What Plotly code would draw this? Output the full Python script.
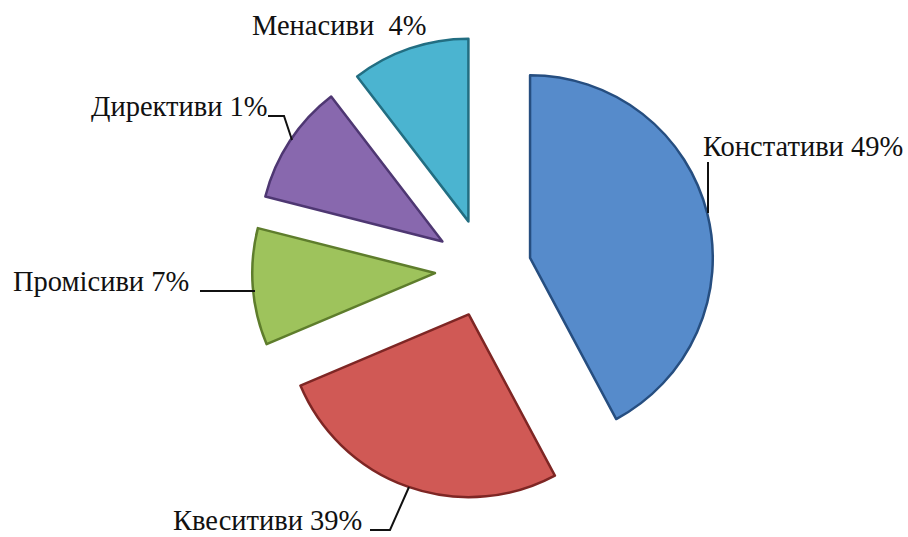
import plotly.graph_objects as go

# --- data -------------------------------------------------------------
categories = ["Констативи", "Квеситиви", "Промісиви", "Директиви", "Менасиви"]
# shares as printed on the labels
label_percents = ["49%", "39%", "7%", "1%", "4%"]
# slice sizes as drawn in the picture
slice_values = [42.1, 26.4, 10.3, 10.6, 10.4]

# --- styles -----------------------------------------------------------
fill_colors = ["#568BCB", "#D05955", "#9EC35C", "#8868AE", "#4BB4D0"]
edge_colors = ["#264E80", "#7E2624", "#5E7D2C", "#4E3772", "#226E82"]
pulls = [0.256, 0.262, 0.273, 0.277, 0.277]

W, H = 908, 537


def px(x, y):
    return x / W, 1 - y / H


fig = go.Figure(
    go.Pie(
        labels=categories,
        values=slice_values,
        sort=False,
        direction="clockwise",
        rotation=0,
        pull=pulls,
        textinfo="none",
        hoverinfo="label",
        marker=dict(colors=fill_colors, line=dict(color=edge_colors, width=2.5)),
        domain=dict(x=[0.1, 0.9676], y=[0.064, 0.933]),
        showlegend=False,
    )
)

font = dict(family="Liberation Serif, Times New Roman, serif", size=28.5, color="#111111")

# label anchors (left edge x, vertical centre y) in pixels
label_pos = [(701, 146), (171, 520), (11, 281), (89, 106), (250, 25)]
annotations = []
for i, (cat, pct) in enumerate(zip(categories, label_percents)):
    sep = "  " if i == 4 else " "
    x, y = px(*label_pos[i])
    annotations.append(
        dict(
            text=cat + sep + pct,
            x=x,
            y=y,
            xref="paper",
            yref="paper",
            xanchor="left",
            yanchor="middle",
            showarrow=False,
            font=font,
        )
    )

# leader lines (pixel paths)
leaders = [
    [(708, 162), (708, 213)],
    [(370, 530), (390, 530), (409, 487)],
    [(200, 291), (255, 291)],
    [(268, 116), (284, 116), (292, 140)],
]
shapes = []
for path in leaders:
    pts = [px(*p) for p in path]
    d = "M " + " L ".join(f"{a:.5f},{b:.5f}" for a, b in pts)
    shapes.append(
        dict(type="path", path=d, xref="paper", yref="paper",
             line=dict(color="#111111", width=2))
    )

fig.update_layout(
    width=W,
    height=H,
    margin=dict(l=0, r=0, t=0, b=0),
    paper_bgcolor="white",
    plot_bgcolor="white",
    annotations=annotations,
    shapes=shapes,
)

fig.write_html("out.html")
